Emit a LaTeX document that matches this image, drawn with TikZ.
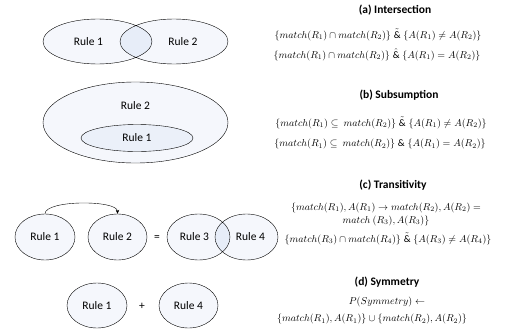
\documentclass[tikz,border=0pt]{standalone}
\usepackage{fontspec}
\setmainfont{Carlito}
\usetikzlibrary{shapes.geometric,arrows.meta}
\definecolor{rulefill}{RGB}{245,247,252}
\definecolor{lapfill}{RGB}{231,237,248}
\tikzset{
  rule/.style={ellipse,draw,fill=rulefill,inner sep=0pt,font=\fontsize{11.5}{13}\selectfont},
  lap/.style={fill=lapfill},
  title/.style={font=\fontsize{11.5}{13}\selectfont\bfseries},
  eq/.style={font=\fontsize{10}{12}\selectfont,inner sep=0pt,align=center},
}
\begin{document}
\begin{tikzpicture}[x=1pt,y=-1pt]
    \useasboundingbox (0,0) rectangle (513,329);
    % (a)
    \node[rule,draw=none,minimum width=109pt,minimum height=45pt] (a1) at (97.5,41.5) {\hspace*{-18pt}Rule 1};
    \node[rule,draw=none,minimum width=108pt,minimum height=45pt] (a2) at (174,41.5) {\hspace*{18pt}Rule 2};
    \begin{scope}
        \clip (a1.center) ellipse [x radius=54.5,y radius=22.5];
        \fill[lap] (a2.center) ellipse [x radius=54,y radius=22.5];
    \end{scope}
    \draw (a1.center) ellipse [x radius=54.5,y radius=22.5] (a2.center) ellipse [x radius=54,y radius=22.5];
    \node[title] (ta) at (395,10) {(a) Intersection};
    \node[eq] (a3) at (378,35) {$\{match(R_1)\cap match(R_2)\}\;\tilde{\&}\;\{A(R_1)\neq A(R_2)\}$};
    \node[eq] (a4) at (377,55) {$\{match(R_1)\cap match(R_2)\}\;\hat{\&}\;\{A(R_1)=A(R_2)\}$};
    % (b)
    \node[rule,minimum width=185pt,minimum height=81pt] (b2) at (135.5,122.5) {};
    \node[font=\fontsize{11.5}{13}\selectfont] (b2t) at (135.5,106) {Rule 2};
    \node[rule,fill=lapfill!70!rulefill,minimum width=112pt,minimum height=27pt] (b1) at (137,138) {Rule 1};
    \node[title] (tb) at (399,95) {(b) Subsumption};
    \node[eq] (b3) at (381,123) {$\{match(R_1)\subseteq\ match(R_2)\}\;\tilde{\&}\;\{A(R_1)\neq A(R_2)\}$};
    \node[eq] (b4) at (380,144) {$\{match(R_1)\subseteq\ match(R_2)\}\;\&\;\{A(R_1)=A(R_2)\}$};
    % (c)
    \node[rule,minimum width=60pt,minimum height=46pt] (c1) at (45,237) {Rule 1};
    \node[rule,minimum width=59pt,minimum height=46pt] (c2) at (117.5,237) {Rule 2};
    \node[font=\fontsize{11.5}{13}\selectfont] (ceq) at (157,238) {=};
    \node[rule,draw=none,minimum width=63pt,minimum height=46pt] (c3) at (198.5,237) {\hspace*{-8pt}Rule 3};
    \node[rule,draw=none,minimum width=63pt,minimum height=46pt] (c4) at (246.5,237) {\hspace*{8pt}Rule 4};
    \begin{scope}
        \clip (c3.center) ellipse [x radius=31.5,y radius=23];
        \fill[lap] (c4.center) ellipse [x radius=31.5,y radius=23];
    \end{scope}
    \draw (c3.center) ellipse [x radius=31.5,y radius=23] (c4.center) ellipse [x radius=31.5,y radius=23];
    \draw[-{Stealth[length=4pt,width=3.5pt]}] (c1.north) .. controls +(0,-14) and +(0,-14) .. (c2.north);
    \node[title] (tc) at (393,185) {(c) Transitivity};
    \node[eq] (c5) at (386,214) {$\{match(R_1),A(R_1)\rightarrow match(R_2),A(R_2)=$\\[1pt]$match\ (R_3),A(R_3)\}$};
    \node[eq] (c6) at (388,239) {$\{match(R_3)\cap match(R_4)\}\;\tilde{\&}\;\{A(R_3)\neq A(R_4)\}$};
    % (d)
    \node[rule,minimum width=60pt,minimum height=45pt] (d1) at (97,305.5) {Rule 1};
    \node[font=\fontsize{11.5}{13}\selectfont] (dplus) at (142,306) {+};
    \node[rule,minimum width=59pt,minimum height=45pt] (d4) at (188.5,305.5) {Rule 4};
    \node[title] (td) at (387,282) {(d) Symmetry};
    \node[eq] (d2) at (387,302) {$P(Symmetry)\leftarrow$};
    \node[eq] (d3) at (372,319) {$\{match(R_1),A(R_1)\}\cup\{match(R_2),A(R_2)\}$};
\end{tikzpicture}
\end{document}
